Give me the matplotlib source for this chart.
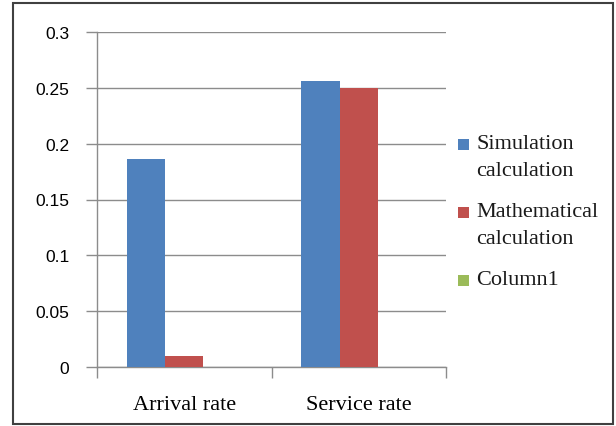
import matplotlib
matplotlib.use("Agg")
import matplotlib.pyplot as plt
from matplotlib.patches import Rectangle
import numpy as np

categories = ["Arrival rate", "Service rate"]
series_names = ["Simulation\ncalculation", "Mathematical\ncalculation", "Column1"]
simulation = [0.186, 0.256]
mathematical = [0.01, 0.25]
column1 = [0.0, 0.0]
y_ticks = [0, 0.05, 0.1, 0.15, 0.2, 0.25, 0.3]
y_tick_labels = ["0", "0.05", "0.1", "0.15", "0.2", "0.25", "0.3"]

colors = ["#4f81bd", "#c0504d", "#9bbb59"]
grid_color = "#8c8c8c"
W, H = 616, 427

fig = plt.figure(figsize=(W / 100, H / 100), dpi=100)
ax = fig.add_axes([97 / W, 1 - 368 / H, (446 - 97) / W, (368 - 33) / H])

x = np.arange(len(categories))
w = 0.22
for i, vals in enumerate([simulation, mathematical, column1]):
    ax.bar(x + (i - 1) * w, vals, width=w, color=colors[i], zorder=3)

ax.set_xlim(-0.5, len(categories) - 0.5)
ax.set_ylim(0, 0.3)
ax.set_yticks(y_ticks)
ax.set_yticklabels(y_tick_labels, family="Liberation Sans", fontsize=12.5)
ax.set_xticks(x)
ax.set_xticklabels(categories, family="Liberation Serif", fontsize=16)
ax.tick_params(axis="x", length=0, pad=20)
# category boundary ticks
ax.set_xticks([-0.5, 0.5, 1.5], minor=True)
ax.tick_params(axis="x", which="minor", length=8, color=grid_color, width=1)
ax.tick_params(axis="y", length=8, color=grid_color, width=1, pad=12)

ax.grid(axis="y", color=grid_color, linewidth=1, zorder=0)
ax.set_axisbelow(True)
for side in ["top", "right"]:
    ax.spines[side].set_visible(False)
for side in ["left", "bottom"]:
    ax.spines[side].set_color(grid_color)
    ax.spines[side].set_linewidth(1)

# legend: square swatch beside the first line of each entry
line_h = 27
entry_gap = 14
y_line = 145
for name, color in zip(series_names, colors):
    lines = name.split("\n")
    fig.patches.append(Rectangle((458 / W, 1 - (y_line + 5.5) / H), 11 / W, 11 / H,
                                 transform=fig.transFigure, facecolor=color,
                                 edgecolor="none"))
    for k, txt in enumerate(lines):
        fig.text(476 / W, 1 - (y_line + k * line_h) / H, txt,
                 family="Liberation Serif", fontsize=16, va="center", ha="left",
                 color="#1a1a1a")
    y_line += len(lines) * line_h + entry_gap

# outer chart border
fig.patches.append(Rectangle((13 / W, 1 - 425 / H), (613 - 13) / W, (425 - 4) / H,
                             transform=fig.transFigure, fill=False,
                             edgecolor="#404040", linewidth=1.5))

fig.savefig("out.png", dpi=100)
